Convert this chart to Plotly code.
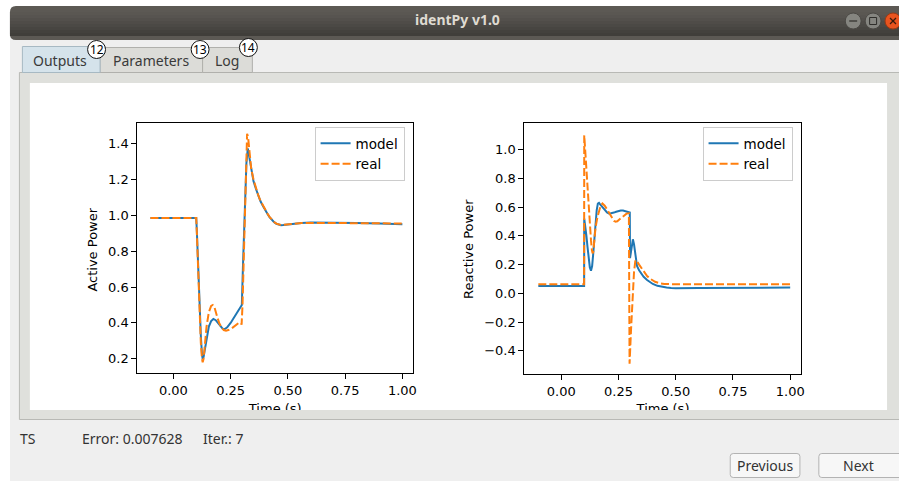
import plotly.graph_objects as go

W, H = 899, 481

# ---- Active power (p.u.) vs time (s) ----
t_p_model = [-0.1, 0.1, 0.103, 0.108, 0.114, 0.12, 0.125, 0.128, 0.132, 0.138,
             0.145, 0.155, 0.165, 0.175, 0.185, 0.195, 0.205, 0.215, 0.225, 0.235,
             0.25, 0.265, 0.28, 0.295, 0.299, 0.304, 0.309, 0.314, 0.319, 0.325,
             0.33, 0.335, 0.34, 0.35, 0.36, 0.37, 0.38, 0.39, 0.40, 0.41,
             0.42, 0.43, 0.44, 0.45, 0.46, 0.47, 0.48, 0.50, 0.53, 0.56,
             0.60, 0.70, 0.80, 0.90, 1.00]
p_model = [0.985, 0.985, 0.90, 0.72, 0.50, 0.33, 0.225, 0.20, 0.21, 0.26,
           0.32, 0.38, 0.41, 0.422, 0.415, 0.40, 0.38, 0.368, 0.366, 0.375,
           0.40, 0.43, 0.46, 0.485, 0.50, 0.72, 0.94, 1.14, 1.29, 1.374,
           1.34, 1.29, 1.25, 1.19, 1.15, 1.11, 1.08, 1.055, 1.03, 1.01,
           0.99, 0.975, 0.962, 0.953, 0.947, 0.945, 0.946, 0.950, 0.955, 0.958,
           0.960, 0.960, 0.958, 0.955, 0.950]

t_p_real = [-0.1, 0.1, 0.103, 0.108, 0.114, 0.12, 0.125, 0.128, 0.132, 0.138,
            0.145, 0.155, 0.165, 0.172, 0.18, 0.19, 0.20, 0.21, 0.22, 0.23,
            0.24, 0.255, 0.27, 0.285, 0.295, 0.298, 0.302, 0.306, 0.31, 0.314,
            0.318, 0.322, 0.326, 0.33, 0.335, 0.34, 0.35, 0.36, 0.37, 0.38,
            0.39, 0.40, 0.41, 0.42, 0.43, 0.44, 0.45, 0.46, 0.47, 0.48,
            0.50, 0.53, 0.56, 0.60, 0.70, 0.80, 0.90, 1.00]
p_real = [0.985, 0.985, 0.89, 0.69, 0.46, 0.29, 0.20, 0.18, 0.20, 0.28,
          0.38, 0.46, 0.495, 0.50, 0.485, 0.44, 0.40, 0.375, 0.36, 0.357,
          0.36, 0.37, 0.385, 0.40, 0.40, 0.39, 0.50, 0.70, 0.90, 1.10,
          1.31, 1.455, 1.44, 1.38, 1.31, 1.26, 1.20, 1.155, 1.115, 1.083,
          1.057, 1.032, 1.012, 0.992, 0.976, 0.963, 0.954, 0.948, 0.946, 0.947,
          0.950, 0.954, 0.957, 0.958, 0.958, 0.957, 0.956, 0.955]

# ---- Reactive power (p.u.) vs time (s) ----
t_q_model = [-0.1, 0.1, 0.1005, 0.105, 0.11, 0.115, 0.12, 0.125, 0.13, 0.135,
             0.14, 0.145, 0.15, 0.155, 0.16, 0.165, 0.17, 0.18, 0.19, 0.20,
             0.21, 0.22, 0.23, 0.24, 0.25, 0.26, 0.27, 0.28, 0.29, 0.2995,
             0.3005, 0.305, 0.309, 0.313, 0.318, 0.322, 0.326, 0.331, 0.34, 0.35,
             0.36, 0.375, 0.39, 0.40, 0.42, 0.44, 0.46, 0.48, 0.50, 0.60,
             0.80, 1.00]
q_model = [0.05, 0.05, 0.52, 0.47, 0.40, 0.32, 0.24, 0.18, 0.157, 0.19,
           0.28, 0.40, 0.50, 0.58, 0.625, 0.63, 0.62, 0.60, 0.58, 0.563,
           0.555, 0.556, 0.562, 0.568, 0.573, 0.576, 0.577, 0.574, 0.568, 0.563,
           0.245, 0.30, 0.35, 0.376, 0.34, 0.28, 0.23, 0.19, 0.16, 0.135,
           0.115, 0.093, 0.075, 0.065, 0.052, 0.044, 0.040, 0.037, 0.036, 0.037,
           0.039, 0.040]

t_q_real = [-0.1, 0.1, 0.1005, 0.105, 0.11, 0.115, 0.12, 0.125, 0.13, 0.134,
            0.137, 0.14, 0.145, 0.15, 0.158, 0.165, 0.172, 0.18, 0.19, 0.20,
            0.21, 0.22, 0.23, 0.237, 0.245, 0.255, 0.265, 0.275, 0.285, 0.2955,
            0.2985, 0.305, 0.312, 0.318, 0.324, 0.33, 0.34, 0.35, 0.36, 0.375,
            0.39, 0.41, 0.43, 0.45, 0.50, 0.60, 0.80, 1.00]
q_real = [0.063, 0.063, 1.10, 0.98, 0.85, 0.72, 0.60, 0.48, 0.37, 0.30,
          0.278, 0.29, 0.38, 0.46, 0.53, 0.58, 0.61, 0.625, 0.61, 0.585,
          0.555, 0.525, 0.505, 0.499, 0.502, 0.515, 0.53, 0.545, 0.555, 0.557,
          -0.49, -0.25, 0.0, 0.15, 0.23, 0.225, 0.20, 0.175, 0.15, 0.12,
          0.10, 0.08, 0.07, 0.065, 0.063, 0.063, 0.063, 0.063]

time_ticks = [0.0, 0.25, 0.5, 0.75, 1.0]
p_ticks = [0.2, 0.4, 0.6, 0.8, 1.0, 1.2, 1.4]
q_ticks = [-0.4, -0.2, 0.0, 0.2, 0.4, 0.6, 0.8, 1.0]

series_names = ["model", "real"]
window_title = "identPy v1.0"
tab_labels = ["Outputs", "Parameters", "Log"]
tab_marks = ["12", "13", "14"]
status_labels = ["TS", "Error: 0.007628", "Iter.: 7"]
button_labels = ["Previous", "Next"]

BLUE = "#1f77b4"
ORANGE = "#ff7f0e"
MPL_FONT = "DejaVu Sans"
UI_FONT = "Noto Sans"


def X(px):
    return px / W


def Y(py):
    return 1 - py / H


def rect(x0, y0, x1, y1, fill, line=None, lw=1, layer="below"):
    return dict(type="rect", xref="paper", yref="paper",
                x0=X(x0), x1=X(x1), y0=Y(y1), y1=Y(y0),
                fillcolor=fill, layer=layer,
                line=dict(color=line if line else fill, width=lw if line else 0))


def rrect(x0, y0, x1, y1, r, fill, line=None, lw=1, layer="below"):
    p = (f"M {X(x0 + r)},{Y(y0)} L {X(x1 - r)},{Y(y0)} Q {X(x1)},{Y(y0)} {X(x1)},{Y(y0 + r)} "
         f"L {X(x1)},{Y(y1 - r)} Q {X(x1)},{Y(y1)} {X(x1 - r)},{Y(y1)} "
         f"L {X(x0 + r)},{Y(y1)} Q {X(x0)},{Y(y1)} {X(x0)},{Y(y1 - r)} "
         f"L {X(x0)},{Y(y0 + r)} Q {X(x0)},{Y(y0)} {X(x0 + r)},{Y(y0)} Z")
    return dict(type="path", xref="paper", yref="paper", path=p, fillcolor=fill,
                layer=layer, line=dict(color=line if line else fill, width=lw if line else 0))


def circle(cx, cy, r, fill, line, lw=1, layer="above"):
    return dict(type="circle", xref="paper", yref="paper",
                x0=X(cx - r), x1=X(cx + r), y0=Y(cy + r), y1=Y(cy - r),
                fillcolor=fill, layer=layer, line=dict(color=line, width=lw))


def seg(x0, y0, x1, y1, color, lw=1, layer="above"):
    return dict(type="line", xref="paper", yref="paper",
                x0=X(x0), x1=X(x1), y0=Y(y0), y1=Y(y1),
                layer=layer, line=dict(color=color, width=lw))


def label(x, y, text, size=14, color="#3c3c3c", anchor="left", family=UI_FONT,
          bold=False, angle=0):
    return dict(xref="paper", yref="paper", x=X(x), y=Y(y),
                text=f"<b>{text}</b>" if bold else text, showarrow=False,
                xanchor=anchor, yanchor="middle", textangle=angle,
                font=dict(family=family, size=size, color=color))


shapes = []
# window body
shapes.append(rect(10, 36, 905, 485, "#efefef"))
# title bar with rounded top-left corner and a vertical gradient
shapes.append(rrect(10, 6, 910, 40, 6, "#5c5954"))
bar_cols = ["#5a5752", "#575450", "#53504c", "#4f4c48", "#4b4945", "#474541", "#43413d", "#403e3a"]
for i, c in enumerate(bar_cols):
    y0 = 12 + i * 3
    shapes.append(rect(10, y0, 905, y0 + 3 if i < len(bar_cols) - 1 else 36, c))
# window control buttons
shapes.append(circle(857, 21, 8, "#858580", "#4a4844"))
shapes.append(circle(877, 21, 8, "#858580", "#4a4844"))
shapes.append(circle(897, 21, 8, "#e9541f", "#9c3a14"))
shapes.append(seg(853, 21, 861, 21, "#2f2e2b", 1.2))
shapes.append(rect(873.5, 17.5, 880.5, 24.5, "rgba(0,0,0,0)", "#2f2e2b", 1, "above"))
shapes.append(seg(894, 18, 900, 24, "#3a1a0c", 1.2))
shapes.append(seg(894, 24, 900, 18, "#3a1a0c", 1.2))

# tab panel
shapes.append(rect(19.5, 72.5, 905, 419.5, "#dfe0dc", "#b8b9b5"))
shapes.append(rect(100.5, 47.5, 203.5, 72.5, "#dcdcd8", "#b0b0ac"))
shapes.append(rect(203.5, 47.5, 253.5, 72.5, "#dcdcd8", "#b0b0ac"))
shapes.append(rect(22.5, 46.5, 100.5, 72.5, "#d5e3eb", "#a7b9c3"))
# plotting canvas
shapes.append(rect(30, 83, 891, 410, "#ffffff"))

# buttons
shapes.append(rrect(733.5, 453.5, 803.5, 477.5, 3, "#f7f7f7", "#b3b3b3"))
shapes.append(rrect(822.5, 453.5, 912, 477.5, 3, "#f7f7f7", "#b3b3b3"))

# numbered markers over the tabs
mark_pos = [(97, 49.5), (201, 49.5), (249.5, 47.5)]
for (cx, cy) in mark_pos:
    shapes.append(circle(cx, cy, 9, "#ffffff", "#111111", 1))

annotations = [
    label(460, 19, window_title, 14, "#dfdbd2", "center", bold=True),
    label(60, 60, tab_labels[0], 14, "#3a3a3a", "center"),
    label(152, 60, tab_labels[1], 14, "#3a3a3a", "center"),
    label(228, 60, tab_labels[2], 14, "#3a3a3a", "center"),
    label(18, 438, status_labels[0], 14, "#333333", "left"),
    label(80, 438, status_labels[1], 14, "#333333", "left"),
    label(202, 438, status_labels[2], 14, "#333333", "left"),
    label(768.5, 465.5, button_labels[0], 14, "#333333", "center"),
    label(862, 465.5, button_labels[1], 14, "#333333", "center"),
    label(92, 250, "Active Power", 13, "#000000", "center", family=MPL_FONT, angle=-90),
    label(470, 249, "Reactive Power", 13, "#000000", "center", family=MPL_FONT, angle=-90),
]
for (cx, cy), t in zip(mark_pos, tab_marks):
    annotations.append(label(cx, cy, t, 12, "#000000", "center"))

fig = go.Figure()

fig.add_trace(go.Scatter(x=t_p_model, y=p_model, mode="lines", name=series_names[0],
                         line=dict(color=BLUE, width=2), xaxis="x", yaxis="y",
                         legend="legend", hoverinfo="skip"))
fig.add_trace(go.Scatter(x=t_p_real, y=p_real, mode="lines", name=series_names[1],
                         line=dict(color=ORANGE, width=2, dash="8px,3px"), xaxis="x", yaxis="y",
                         legend="legend", hoverinfo="skip"))
fig.add_trace(go.Scatter(x=t_q_model, y=q_model, mode="lines", name=series_names[0],
                         line=dict(color=BLUE, width=2), xaxis="x2", yaxis="y2",
                         legend="legend2", hoverinfo="skip"))
fig.add_trace(go.Scatter(x=t_q_real, y=q_real, mode="lines", name=series_names[1],
                         line=dict(color=ORANGE, width=2, dash="8px,3px"), xaxis="x2", yaxis="y2",
                         legend="legend2", hoverinfo="skip"))

# x-axis titles sit at the bottom edge of the canvas and are cut off by it
fig.add_trace(go.Scatter(x=[276.5, 666], y=[410, 410], mode="text",
                         text=["Time (s)", "Time (s)"], textposition="middle center",
                         textfont=dict(family=MPL_FONT, size=13, color="#000000"),
                         cliponaxis=True, showlegend=False, hoverinfo="skip",
                         xaxis="x3", yaxis="y3"))

axis_common = dict(showline=True, mirror=True, linecolor="#000000", linewidth=1,
                   ticks="outside", ticklen=5, tickwidth=1, tickcolor="#000000",
                   showgrid=False, zeroline=False, fixedrange=True,
                   tickfont=dict(family=MPL_FONT, size=13, color="#000000"))

legend_common = dict(xanchor="left", yanchor="top", bgcolor="rgba(255,255,255,0.8)",
                     bordercolor="#cccccc", borderwidth=1, itemwidth=30, tracegroupgap=0,
                     font=dict(family=MPL_FONT, size=13.5, color="#000000"))

fig.update_layout(
    width=W, height=H, autosize=False,
    margin=dict(l=0, r=0, t=0, b=0, pad=0),
    paper_bgcolor="#ffffff", plot_bgcolor="rgba(0,0,0,0)",
    showlegend=True,
    xaxis=dict(domain=[X(138), X(415)], range=[-0.157, 1.047], anchor="y",
               tickvals=time_ticks, tickformat=".2f", **axis_common),
    yaxis=dict(domain=[Y(373), Y(123)], range=[0.1205, 1.5155], anchor="x",
               tickvals=p_ticks, tickformat=".1f", **axis_common),
    xaxis2=dict(domain=[X(526.7), X(805)], range=[-0.161, 1.049], anchor="y2",
                tickvals=time_ticks, tickformat=".2f", **axis_common),
    yaxis2=dict(domain=[Y(374), Y(123)], range=[-0.562, 1.186], anchor="x2",
                tickvals=q_ticks, tickformat=".1f", **axis_common),
    xaxis3=dict(domain=[X(30), X(891)], range=[30, 891], anchor="y3", visible=False,
                fixedrange=True),
    yaxis3=dict(domain=[Y(410), Y(83)], range=[410, 83], anchor="x3", visible=False,
                fixedrange=True),
    legend=dict(x=X(316), y=Y(127), **legend_common),
    legend2=dict(x=X(705.7), y=Y(127), **legend_common),
    shapes=shapes,
    annotations=annotations,
)

fig.write_html("out.html")
